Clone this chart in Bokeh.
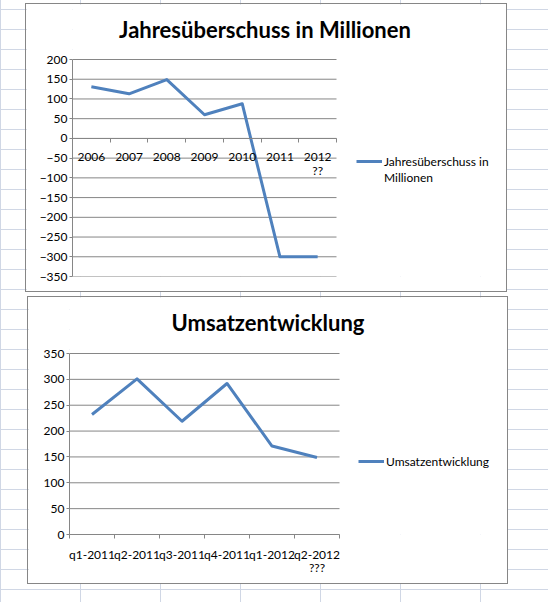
from bokeh.embed import file_html
from bokeh.layouts import column, row
from bokeh.models import FixedTicker, Label, Legend, LegendItem, Range1d, Spacer
from bokeh.plotting import figure
from bokeh.resources import INLINE

# chart 1: Jahresüberschuss in Millionen
years = ["2006", "2007", "2008", "2009", "2010", "2011", "2012\n??"]
surplus = [131, 113, 149, 60, 88, -300, -300]
surplus_ticks = [-350, -300, -250, -200, -150, -100, -50, 0, 50, 100, 150, 200]

# chart 2: Umsatzentwicklung
quarters = ["q1-2011", "q2-2011", "q3-2011", "q4-2011", "q1-2012", "q2-2012\n???"]
revenue = [232, 301, 219, 292, 171, 149]
revenue_ticks = [0, 50, 100, 150, 200, 250, 300, 350]

BLUE = "#4F81BD"
GREY = "#868686"
FONT = "Lato"


def make_chart(title, legend_lines, cats, vals, yticks, width, height, left, bottom,
               plot_w, plot_h, title_pos, legend_loc, label_standoff, zero_axis):
    n = len(cats)
    # the frame fills the whole chart box (right and top) so that the title and
    # legend can sit inside it; the data only use plot_w x plot_h pixels of it
    frame_w = width - left
    frame_h = height - bottom
    y0, y1 = yticks[0], yticks[-1]
    p = figure(width=width, height=height, output_backend="svg", toolbar_location=None,
               x_range=Range1d(0, n * frame_w / plot_w),
               y_range=Range1d(y0, y0 + (y1 - y0) * frame_h / plot_h),
               min_border_left=left, min_border_right=0,
               min_border_top=0, min_border_bottom=bottom,
               styles={"box-shadow": "0 0 0 1px " + GREY})
    p.outline_line_color = None
    p.background_fill_color = "white"
    p.border_fill_color = "white"

    p.add_layout(Label(x=title_pos[0], y=title_pos[1], x_units="screen", y_units="screen",
                       text=title, text_align="center", text_baseline="middle",
                       text_font=FONT, text_font_size="22px", text_font_style="bold",
                       text_color="black"))

    # category centers get labels, boundaries get the little ticks
    centers = [i + 0.5 for i in range(n)]
    xa = p.xaxis[0]
    xa.ticker = FixedTicker(ticks=centers, minor_ticks=list(range(n + 1)))
    xa.major_label_overrides = {c: lab for c, lab in zip(centers, cats)}
    xa.bounds = (0, n)
    xa.major_tick_line_color = None
    xa.major_tick_out = 0
    xa.minor_tick_out = 4
    xa.minor_tick_in = 0
    xa.minor_tick_line_color = GREY
    xa.axis_line_color = GREY
    xa.major_label_standoff = label_standoff
    xa.major_label_text_font = FONT
    xa.major_label_text_font_size = "12px"
    xa.major_label_text_line_height = 0.9
    xa.major_label_text_color = "black"
    if zero_axis:
        xa.fixed_location = 0

    ya = p.yaxis[0]
    ya.ticker = FixedTicker(ticks=yticks)
    ya.bounds = (y0, y1)
    ya.major_tick_out = 3
    ya.major_tick_in = 0
    ya.major_tick_line_color = GREY
    ya.minor_tick_line_color = None
    ya.axis_line_color = GREY
    ya.major_label_standoff = 2
    ya.major_label_text_font = FONT
    ya.major_label_text_font_size = "12px"
    ya.major_label_text_color = "black"

    # horizontal gridlines only across the category part
    p.xgrid.visible = False
    p.ygrid.visible = False
    p.segment(x0=0, x1=n, y0=yticks, y1=yticks, line_color=GREY, line_width=1)

    r = p.line(centers, vals, line_color=BLUE, line_width=3, line_join="round")

    # first legend line carries the glyph, a wrapped rest goes in a row without one
    items = [LegendItem(label=legend_lines[0], renderers=[r])]
    items += [LegendItem(label=t, renderers=[]) for t in legend_lines[1:]]
    lg = Legend(items=items, location=legend_loc, padding=0, margin=0, spacing=0,
                border_line_color=None, background_fill_alpha=0,
                glyph_width=26, glyph_height=16, label_height=16, label_standoff=2,
                label_text_font=FONT, label_text_font_size="12px",
                label_text_color="black")
    p.add_layout(lg, "center")
    return p


p1 = make_chart("Jahresüberschuss in Millionen", ["Jahresüberschuss in", "Millionen"],
                years, surplus, surplus_ticks,
                480, 287, 46, 15, 264, 217, (192.5, 247), (284, 91), 7, True)
p2 = make_chart("Umsatzentwicklung", ["Umsatzentwicklung"],
                quarters, revenue, revenue_ticks,
                479, 286, 41, 49, 270, 181, (198.5, 212), (289, 65), 8, False)

# excel sheet grid behind the charts
sheet = {
    "background-color": "white",
    "background-image": "linear-gradient(to right, #d0d7e5 1px, transparent 1px), "
                        "linear-gradient(to bottom, #d0d7e5 1px, transparent 1px)",
    "background-size": "80px 20px",
    "background-position": "80px 9px",
}

root = column(Spacer(width=548, height=4),
              row(Spacer(width=26, height=287), p1),
              Spacer(width=548, height=6),
              row(Spacer(width=28, height=286), p2),
              spacing=0, width=548, height=602, styles=sheet)

open("out.html", "w").write(file_html(root, INLINE))
